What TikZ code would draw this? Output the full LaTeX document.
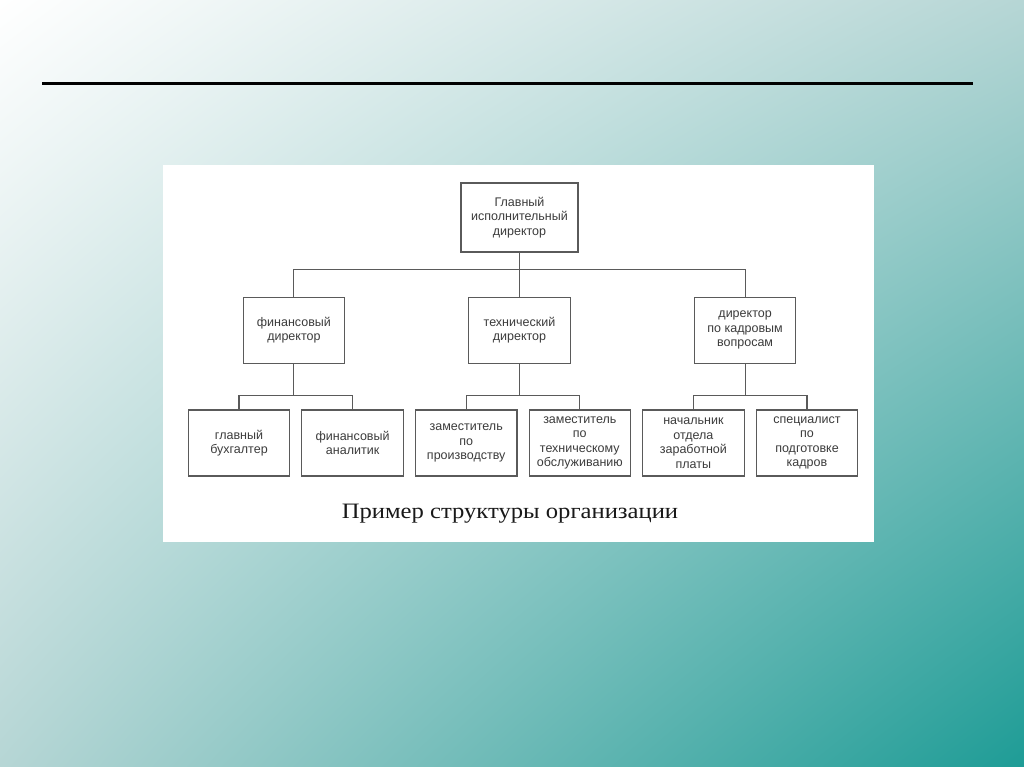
\documentclass[tikz,border=0pt]{standalone}
\usepackage{fontspec}
\setmainfont{Liberation Serif}
\setsansfont{Liberation Sans}
\newfontfamily\captionserif[FakeStretch=1.12]{Liberation Serif}
\usetikzlibrary{positioning,shadings}
\definecolor{slideteal}{RGB}{30,156,150}
\definecolor{slidemist}{RGB}{182,214,213}
\definecolor{boxgray}{RGB}{90,90,90}
\definecolor{textgray}{RGB}{60,60,60}

\begin{document}
\begin{tikzpicture}[
        x=1pt, y=-1pt,
        node distance=11pt,
        font=\sffamily,
        unit/.style={rectangle, draw=boxgray, line width=1.1pt, fill=white, text=textgray, align=center, inner sep=2pt, minimum width=#1, minimum height=66pt, font=\sffamily\fontsize{12.5}{14.5}\selectfont},
        unit/.default=101.5pt,
        link/.style={draw=boxgray, line width=1.1pt}
    ]
        % slide background
        \shade[upper left=white, upper right=slidemist, lower left=slidemist, lower right=slideteal] (0,0) rectangle (1024,767);
        \useasboundingbox (0,0) rectangle (1024,767);
        \draw[line width=3pt, black] (42,84) -- (973,84);
        \fill[white] (163,165) rectangle (874,542);

        \node[unit=117pt, minimum height=69pt] (ceo) at (519.5,217.5) {Главный\\исполнительный\\директор};
        \node[unit, below=44pt of ceo] (tech) {технический\\директор};
        \node[unit, left=123pt of tech] (fin) {финансовый\\директор};
        \node[unit, right=123pt of tech] (hr) {директор\\по кадровым\\вопросам};

        \node[unit] (buh) at (239,443) {главный\\бухгалтер};
        \node[unit, right=of buh] (anal) {финансовый\\аналитик};
        \node[unit, right=of anal] (zpr) {заместитель\\по\\производству};
        \node[unit, right=of zpr] (zto) {заместитель\\по\\техническому\\обслуживанию};
        \node[unit, right=of zto] (nach) {начальник\\отдела\\заработной\\платы};
        \node[unit, right=of nach] (spec) {специалист\\по\\подготовке\\кадров};

        \node[anchor=base, font=\captionserif\fontsize{22}{26}\selectfont, text=black!90] (caption) at (510,518) {Пример структуры организации};

        \draw[link] (ceo) -- (tech);
        \path (ceo.south) ++(0,17) coordinate (bus);
        \draw[link] (fin.north) |- (bus) -| (hr.north);
        \foreach \boss/\first/\second in {fin/buh/anal, tech/zpr/zto, hr/nach/spec}
            \draw[link] (\boss.south) -- ++(0,32) coordinate (j) -| (\first.north) (j) -| (\second.north);
    \end{tikzpicture}
\end{document}
